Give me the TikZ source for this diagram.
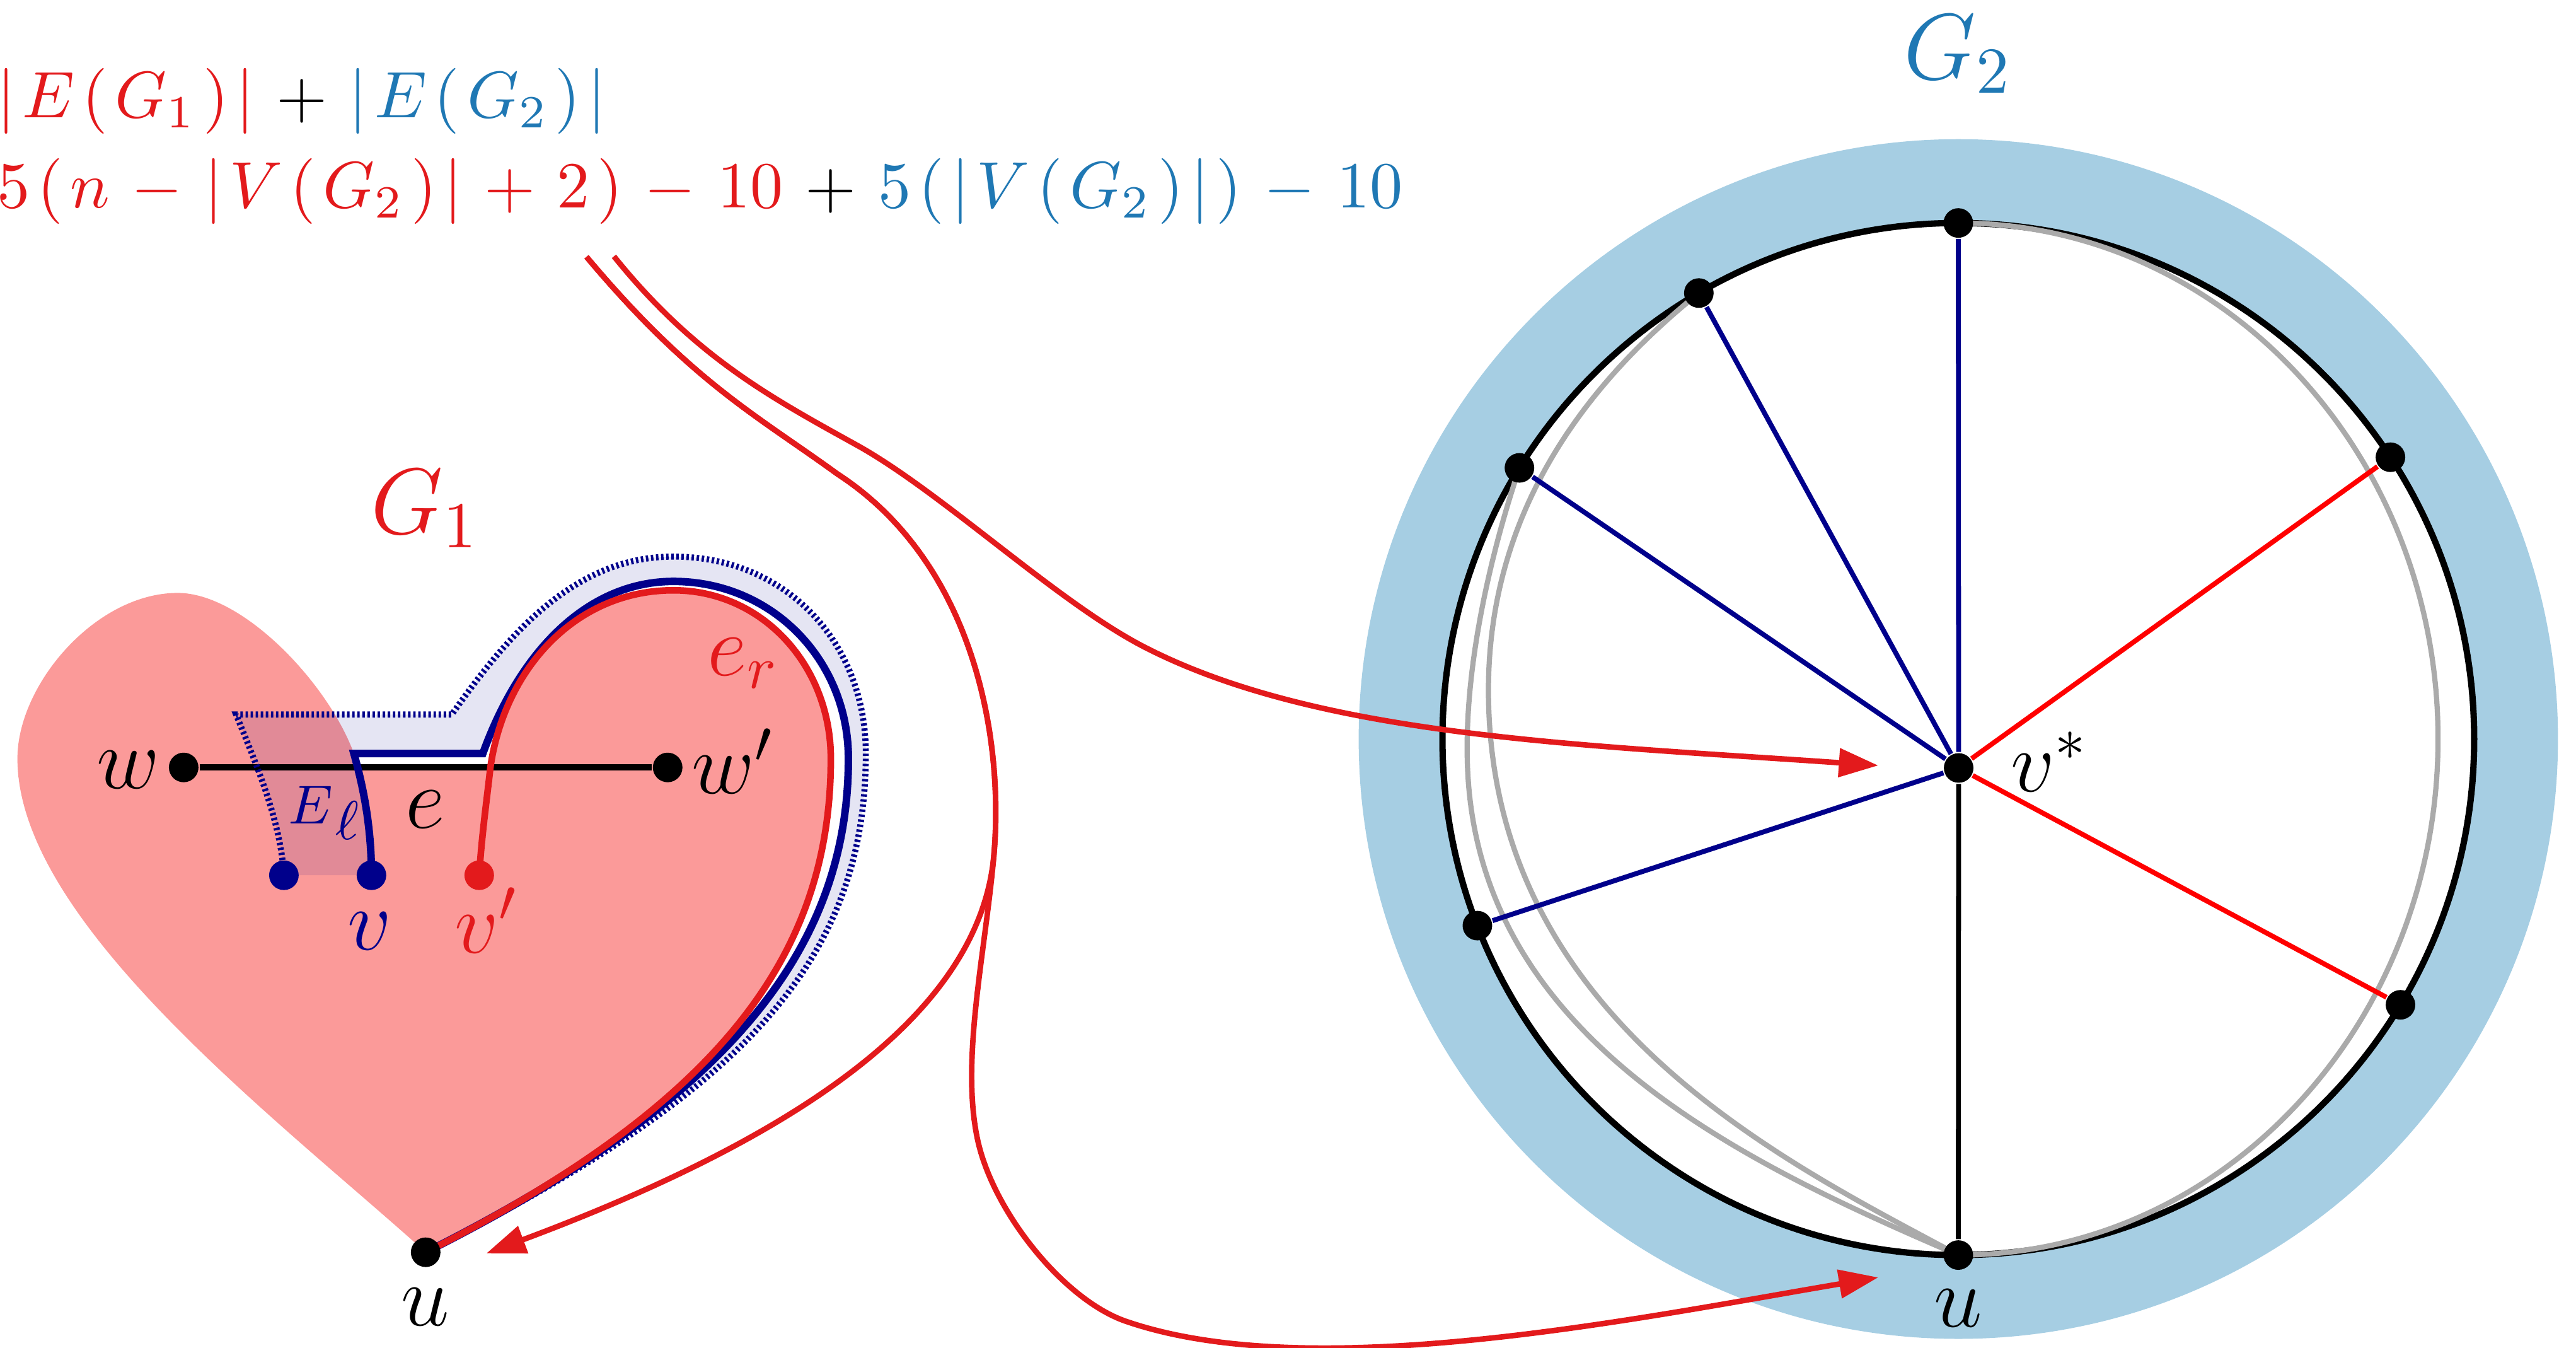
\documentclass[tikz,border=0pt]{standalone}
\usepackage{fix-cm}
\usetikzlibrary{arrows.meta,calc}
\definecolor{cred}{RGB}{227,26,28}
\definecolor{cblue}{RGB}{31,120,180}
\definecolor{cring}{RGB}{166,206,227}
\definecolor{cheart}{RGB}{251,154,153}
\definecolor{cnavy}{RGB}{0,0,139}
\definecolor{spred}{RGB}{255,0,0}
\definecolor{gcol}{RGB}{170,170,170}
\newcommand\kk{\mkern2mu}
\tikzset{
  vtx/.style={circle, fill=black, inner sep=0pt, minimum size=1.8mm},
  lbl/.style={inner sep=0pt, font=\fontsize{15}{18}\selectfont},
  lbls/.style={inner sep=0pt, font=\fontsize{9.5}{11}\selectfont},
  big/.style={inner sep=0pt, font=\fontsize{16.2}{19}\selectfont},
  fml/.style={inner sep=0pt, font=\fontsize{11.38}{13.7}\selectfont},
  arr/.style={draw=cred, line width=0.95pt, -{Triangle[length=2.4mm,width=1.7mm]}},
  bpath/.style={draw=cnavy, line width=1.3pt},
  rpath/.style={draw=cred, line width=1.15pt},
  dpath/.style={draw=cnavy, line width=1.05pt, dash pattern=on 0.42pt off 0.46pt},
  spk/.style={line width=0.85pt},
  gline/.style={draw=gcol, line width=0.9pt},
}
\begin{document}
\begin{tikzpicture}
\useasboundingbox (0,0) rectangle (15.68,8.2);

% ---------------- G2 ----------------
\coordinate (O) at (11.92,3.703);
\fill[cring] (O) circle[radius=3.65];
\fill[white] (O) circle[radius=3.14];
\draw[line width=1.1pt] (O) circle[radius=3.14];
\coordinate (pt) at ($(O)+(90:3.14)$);
\coordinate (pa) at ($(O)+(120.2:3.14)$);
\coordinate (pb) at ($(O)+(148.3:3.14)$);
\coordinate (pc) at ($(O)+(201.2:3.14)$);
\coordinate (pu) at ($(O)+(270:3.14)$);
\coordinate (pd) at ($(O)+(-31:3.14)$);
\coordinate (pf) at ($(O)+(33.1:3.14)$);
\coordinate (pv) at (11.922,3.527);

\draw[gline] (pt) arc[start angle=90, end angle=-90, x radius=2.92, y radius=3.14];
\draw[gline] (pa) .. controls (9.559,5.788) and (9.06,5.0) .. (9.06,4.0)
                 .. controls (9.06,2.0) and (10.854,1.136) .. (pu);
\draw[gline] (pb) .. controls (9.055,4.778) and (8.895,4.05) .. (8.937,3.451)
                 .. controls (9.049,1.855) and (10.624,1.12) .. (pu);

\foreach \p in {pt,pa,pb,pc,pu,pd,pf,pv} \node[vtx] (n\p) at (\p) {};
\draw[spk, cnavy] (npv) -- (npt);
\draw[spk, cnavy] (npv) -- (npa);
\draw[spk, cnavy] (npv) -- (npb);
\draw[spk, cnavy] (npv) -- (npc);
\draw[spk] (npv) -- (npu);
\draw[spk, spred] (npv) -- (npd);
\draw[spk, spred] (npv) -- (npf);

\node[lbl, anchor=base west] (lvs) at (12.235,3.385) {$v^*$};
\node[lbl, anchor=base] (lu2) at (11.92,0.125) {$u$};
\node[big, anchor=base, text=cblue] (lG2) at (11.917,7.72) {$G_2$};

% ---------------- G1 ----------------
\coordinate (U1) at (2.591,0.58);
\coordinate (V) at (2.261,2.874);
\coordinate (VL) at (1.728,2.874);
\coordinate (VP) at (2.917,2.874);
\coordinate (W) at (1.118,3.53);
\coordinate (WP) at (4.064,3.53);
\coordinate (B1) at (2.154,3.615);
\coordinate (B2) at (2.939,3.615);
\coordinate (BT) at (4.099,4.662);
\coordinate (BR) at (5.164,3.584);
\coordinate (D1) at (1.437,3.852);
\coordinate (D2) at (2.75,3.852);
\coordinate (DT) at (4.099,4.813);
\coordinate (DR) at (5.27,3.615);
\coordinate (XR) at (2.985,3.53);
\coordinate (RT) at (4.099,4.608);
\coordinate (RR) at (5.057,3.584);

% heart
\fill[cheart] (U1) .. controls (1.699,1.383) and (0.106,2.584) .. (0.106,3.584)
   .. controls (0.106,4.034) and (0.582,4.592) .. (1.082,4.592)
   .. controls (1.48,4.592) and (2.0,4.038) .. (B1) -- (B2)
   .. controls (3.178,4.273) and (3.6,4.662) .. (BT)
   .. controls (4.699,4.662) and (5.164,4.184) .. (BR)
   .. controls (5.164,2.384) and (4.377,1.478) .. (U1) -- cycle;
% white strip
\fill[white] (B1) -- (B2)
   .. controls (3.178,4.273) and (3.6,4.662) .. (BT)
   .. controls (4.699,4.662) and (5.164,4.184) .. (BR)
   .. controls (5.164,2.384) and (4.377,1.478) .. (U1)
   .. controls (4.377,1.478) and (5.057,2.384) .. (RR)
   .. controls (5.057,4.15) and (4.64,4.608) .. (RT)
   .. controls (3.499,4.608) and (3.069,4.124) .. (XR)
   -- (2.165,3.53) -- cycle;
% E_l region
\fill[cnavy, opacity=0.1] (VL) .. controls (1.71,3.2) and (1.56,3.55) .. (D1) -- (D2)
   .. controls (3.094,4.343) and (3.499,4.813) .. (DT)
   .. controls (4.779,4.813) and (5.27,4.295) .. (DR)
   .. controls (5.27,2.315) and (4.466,1.523) .. (U1)
   .. controls (4.377,1.478) and (5.164,2.384) .. (BR)
   .. controls (5.164,4.184) and (4.699,4.662) .. (BT)
   .. controls (3.6,4.662) and (3.178,4.273) .. (B2) -- (B1)
   .. controls (2.2,3.45) and (2.261,3.2) .. (V) -- cycle;

\node[vtx] (nw) at (W) {};
\node[vtx] (nwp) at (WP) {};
\draw[line width=1.1pt] (nw) -- (nwp);

\draw[dpath] (VL) .. controls (1.71,3.2) and (1.56,3.55) .. (D1) -- (D2)
   .. controls (3.094,4.343) and (3.499,4.813) .. (DT)
   .. controls (4.779,4.813) and (5.27,4.295) .. (DR)
   .. controls (5.27,2.315) and (4.466,1.523) .. (U1);
\draw[bpath] (V) .. controls (2.261,3.2) and (2.2,3.45) .. (B1) -- (B2)
   .. controls (3.178,4.273) and (3.6,4.662) .. (BT)
   .. controls (4.699,4.662) and (5.164,4.184) .. (BR)
   .. controls (5.164,2.384) and (4.377,1.478) .. (U1);
\draw[rpath] (VP) .. controls (2.93,3.1) and (2.965,3.35) .. (XR)
   .. controls (3.069,4.124) and (3.499,4.608) .. (RT)
   .. controls (4.64,4.608) and (5.057,4.15) .. (RR)
   .. controls (5.057,2.384) and (4.377,1.478) .. (U1);

\node[vtx] (nu1) at (U1) {};
\node[vtx, fill=cnavy] (nv) at (V) {};
\node[vtx, fill=cnavy] (nvl) at (VL) {};
\node[vtx, fill=cred] (nvp) at (VP) {};

\node[lbl, anchor=base] (lw) at (0.78,3.404) {$w$};
\node[lbl, anchor=base west] (lwp) at (4.205,3.37) {$w'$};
\node[lbl, anchor=base] (le) at (2.59,3.16) {$e$};
\node[lbls, anchor=base west, text=cnavy] (lEl) at (1.75,3.186) {$E$\hspace{0.015cm}\raisebox{-0.095cm}{$\ell$}};
\node[lbl, anchor=base, text=cnavy] (lv) at (2.25,2.42) {$v$};
\node[lbl, anchor=base west, text=cred] (lvp) at (2.76,2.40) {$v'$};
\node[lbl, anchor=base west, text=cred] (ler) at (4.30,4.09) {$e_r$};
\node[lbl, anchor=base] (lu1) at (2.59,0.135) {$u$};
\node[big, anchor=base, text=cred] (lG1) at (2.587,4.952) {$G_1$};

% ---------------- formula ----------------
\node[fml, anchor=base west] (f1) at (-0.025,7.484)
  {$\textcolor{cred}{|\kk E\kk(\kk G_1\kk)\kk|}\kk+\kk\textcolor{cblue}{|\kk E\kk(\kk G_2\kk)\kk|}$};
\node[fml, anchor=base west] (f2) at (-0.025,6.935)
  {$\textcolor{cred}{5\kk(\kk n\kk-\kk|\kk V\kk(\kk G_2\kk)\kk|\kk+\kk 2\kk)\kk-\kk 10}\kk+\kk\textcolor{cblue}{5\kk(\kk|\kk V\kk(\kk G_2\kk)\kk|\kk)\kk-\kk 10}$};

% ---------------- arrows ----------------
\coordinate (srcA) at (3.737,6.64);
\coordinate (srcB) at (3.57,6.637);
\coordinate (tipA) at (11.433,3.542);
\coordinate (tipB) at (11.433,0.427);
\coordinate (tipC) at (2.96,0.573);
\draw[arr] (srcA) .. controls (4.229,6.029) and (4.689,5.783) .. (5.214,5.492)
   .. controls (5.739,5.201) and (6.44,4.53) .. (6.975,4.258)
   .. controls (8.044,3.713) and (9.637,3.668) .. (tipA);
\draw[arr] (srcB) .. controls (4.213,5.871) and (4.612,5.669) .. (5.097,5.316)
   .. controls (5.936,4.771) and (6.111,3.697) .. (6.05,3.0)
   .. controls (5.963,2.004) and (4.79,1.257) .. (tipC);
\draw[arr] (srcB) .. controls (4.213,5.871) and (4.612,5.669) .. (5.097,5.316)
   .. controls (5.936,4.771) and (6.111,3.697) .. (6.05,3.0)
   .. controls (5.998,2.402) and (5.846,1.756) .. (5.95,1.267)
   .. controls (6.044,0.827) and (6.475,0.29) .. (6.853,0.16)
   .. controls (7.988,-0.231) and (9.954,0.177) .. (tipB);
\end{tikzpicture}
\end{document}
